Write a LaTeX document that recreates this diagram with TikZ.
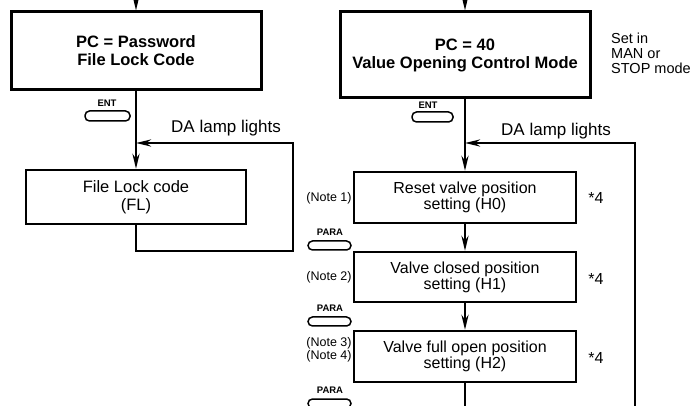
\documentclass[tikz,border=0pt]{standalone}
\usepackage{fontspec}
\setmainfont{Liberation Sans}
\usetikzlibrary{shapes,arrows.meta,positioning}

\begin{document}
\begin{tikzpicture}[x=1pt,y=-1pt,
  modebox/.style={draw,line width=3pt,minimum width=250pt,inner sep=0pt,align=center,font=\fontsize{16.5}{18}\selectfont\bfseries},
  stepbox/.style={draw,line width=2.2pt,minimum width=222pt,inner sep=0pt,align=center,font=\fontsize{16}{16}\selectfont},
  keybtn/.style={draw,line width=1.5pt,rounded corners=4.5pt,minimum width=43pt,minimum height=9pt,inner sep=0pt},
  keylbl/.style={font=\fontsize{9.5}{10}\selectfont\bfseries,inner sep=0pt},
  note/.style={font=\fontsize{12.5}{13}\selectfont,inner sep=0pt,align=left},
  remark/.style={font=\fontsize{17}{18}\selectfont,inner sep=0pt},
  flow/.style={line width=2.6pt,-{Stealth[length=15pt,width=7pt]}},
  fbline/.style={line width=2.6pt}]
  \useasboundingbox (0,0) rectangle (694,406);

  % left: password / file lock code
  \coordinate (ltop) at (136,0);
  \node[modebox,minimum height=78pt] (pwd) at (136,51) {PC = Password\\File Lock Code};
  \node[stepbox,minimum width=220pt,minimum height=54pt,font=\fontsize{16.5}{18}\selectfont] (fl) at (136,197) {File Lock code\\(FL)};
  \draw[flow] (ltop) -- (pwd.north);
  \draw[flow] (pwd.south) -- (fl.north);
  \node[keylbl] (lentlbl) at (107,103) {ENT};
  \node[keybtn,minimum width=45pt,minimum height=10pt] (lent) at (107.5,116) {};
  \node[remark] (llamp) at (226,128) {DA lamp lights};
  \coordinate (lret) at (293,143);
  \coordinate (lbot) at (293,251);
  \draw[flow] (fl.south) |- (lbot) -- (lret) -- (lret -| pwd.south);

  % right: PC = 40
  \coordinate (rtop) at (465,0);
  \node[modebox,minimum height=86pt] (pc40) at (465,55) {PC = 40\\Value Opening Control Mode};
  \node[note,font=\fontsize{14.5}{15}\selectfont,anchor=west] (setin) at (611,53) {Set in\\MAN or\\STOP mode};
  \node[stepbox,minimum height=51pt] (h0) at (465,197.5) {Reset valve position\\setting (H0)};
  \node[stepbox,minimum height=50pt] (h1) at (465,277) {Valve closed position\\setting (H1)};
  \node[stepbox,minimum height=51pt] (h2) at (465,356.5) {Valve full open position\\setting (H2)};
  \coordinate (rend) at (465,410);
  \draw[flow] (rtop) -- (pc40.north);
  \draw[flow] (pc40.south) -- (h0.north);
  \draw[flow] (h0.south) -- (h1.north);
  \draw[flow] (h1.south) -- (h2.north);
  \draw[fbline] (h2.south) -- (rend);
  \node[keylbl] (rentlbl) at (428,105) {ENT};
  \node[keybtn,minimum width=41pt,minimum height=10pt] (rent) at (432.5,117) {};
  \node[remark] (rlamp) at (556,131) {DA lamp lights};
  \coordinate (rret) at (635,143);
  \coordinate (rbot) at (635,410);
  \draw[flow] (rbot) -- (rret) -- (rret -| pc40.south);

  % notes and keys
  \node[note] (n1) at (329,198) {(Note 1)};
  \node[note] (n2) at (329,277) {(Note 2)};
  \node[note] (n34) at (329,350) {(Note 3)\\(Note 4)};
  \foreach \y/\n in {198/0,279/1,358/2}
    \node[remark,font=\fontsize{16}{16}\selectfont] (star\n) at (596,\y) {*4};
  \foreach \y/\n in {232/1,308/2,390/3} {
    \node[keylbl] (para\n lbl) at (330,\y) {PARA};
    \node[keybtn] (para\n) at (329.5,\y+13.5) {};
  }
\end{tikzpicture}
\end{document}
